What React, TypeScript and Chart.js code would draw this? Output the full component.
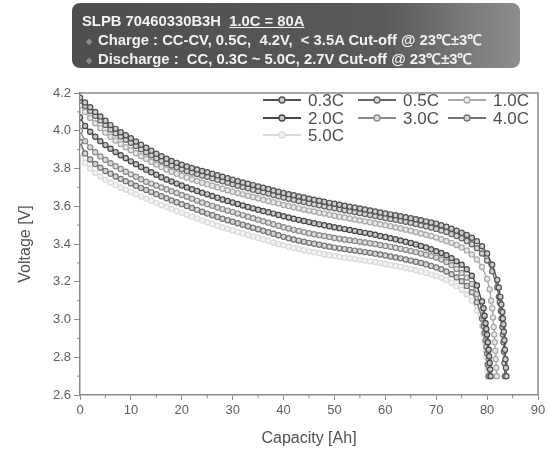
import React, { useEffect, useRef } from "react";
import { Chart, registerables } from "chart.js";

Chart.register(...registerables);

// ---- data ----
const seriesLabels = ["0.3C", "0.5C", "1.0C", "2.0C", "3.0C", "4.0C", "5.0C"];

const capacityAh = [
  0, 1, 2, 3, 4, 5, 6, 7, 8, 9,
  10, 11, 12, 13, 14, 15, 16, 17, 18, 19,
  20, 21, 22, 23, 24, 25, 26, 27, 28, 29,
  30, 31, 32, 33, 34, 35, 36, 37, 38, 39,
  40, 41, 42, 43, 44, 45, 46, 47, 48, 49,
  50, 51, 52, 53, 54, 55, 56, 57, 58, 59,
  60, 61, 62, 63, 64, 65, 66, 67, 68, 69,
  70, 71, 72, 73, 74, 75, 76, 77, 78, 79,
  80, 81, 82,
];

const v03 = [
  4.175, 4.150, 4.125, 4.100, 4.076, 4.053, 4.030, 4.010, 3.992, 3.976,
  3.960, 3.943, 3.926, 3.910, 3.894, 3.878, 3.865, 3.852, 3.840, 3.830,
  3.820, 3.811, 3.803, 3.795, 3.787, 3.780, 3.772, 3.764, 3.756, 3.748,
  3.740, 3.733, 3.726, 3.719, 3.712, 3.705, 3.698, 3.691, 3.684, 3.677,
  3.670, 3.664, 3.658, 3.652, 3.646, 3.640, 3.635, 3.629, 3.624, 3.618,
  3.613, 3.608, 3.603, 3.598, 3.593, 3.588, 3.583, 3.578, 3.572, 3.567,
  3.562, 3.557, 3.552, 3.547, 3.542, 3.537, 3.531, 3.526, 3.520, 3.514,
  3.508, 3.500, 3.491, 3.481, 3.470, 3.460, 3.448, 3.433, 3.415, 3.388,
  3.350, 3.290, 3.210,
];
const tailCap03 = [82.3, 82.6, 82.8, 83.0, 83.1, 83.2, 83.3, 83.4, 83.5, 83.6, 83.7, 83.8];
const tailV03 = [3.170, 3.120, 3.080, 3.040, 3.005, 2.975, 2.935, 2.890, 2.840, 2.790, 2.745, 2.700];

const v05 = [
  4.160, 4.132, 4.105, 4.079, 4.054, 4.030, 4.007, 3.987, 3.969, 3.952,
  3.936, 3.919, 3.902, 3.886, 3.870, 3.854, 3.841, 3.828, 3.816, 3.806,
  3.796, 3.787, 3.779, 3.771, 3.763, 3.756, 3.748, 3.740, 3.732, 3.724,
  3.716, 3.709, 3.702, 3.695, 3.688, 3.681, 3.674, 3.667, 3.660, 3.653,
  3.646, 3.640, 3.634, 3.628, 3.622, 3.616, 3.611, 3.605, 3.600, 3.594,
  3.589, 3.584, 3.579, 3.574, 3.569, 3.564, 3.559, 3.554, 3.548, 3.543,
  3.538, 3.533, 3.528, 3.523, 3.518, 3.512, 3.506, 3.500, 3.494, 3.487,
  3.480, 3.472, 3.463, 3.453, 3.442, 3.430, 3.416, 3.399, 3.378, 3.350,
  3.312, 3.255, 3.170,
];
const tailCap05 = [82.3, 82.5, 82.7, 82.85, 83.0, 83.1, 83.2, 83.3, 83.4, 83.5];
const tailV05 = [3.120, 3.090, 3.045, 3.005, 2.960, 2.920, 2.880, 2.830, 2.770, 2.700];

const v10 = [
  4.135, 4.100, 4.068, 4.040, 4.014, 3.990, 3.968, 3.948, 3.930, 3.913,
  3.897, 3.881, 3.865, 3.850, 3.835, 3.821, 3.808, 3.795, 3.783, 3.772,
  3.762, 3.752, 3.743, 3.734, 3.725, 3.717, 3.709, 3.701, 3.693, 3.685,
  3.677, 3.670, 3.663, 3.656, 3.649, 3.642, 3.635, 3.628, 3.621, 3.614,
  3.607, 3.601, 3.595, 3.589, 3.583, 3.577, 3.572, 3.566, 3.561, 3.555,
  3.550, 3.545, 3.540, 3.535, 3.530, 3.525, 3.520, 3.515, 3.510, 3.505,
  3.500, 3.494, 3.488, 3.482, 3.476, 3.470, 3.463, 3.456, 3.449, 3.442,
  3.434, 3.425, 3.416, 3.406, 3.395, 3.382, 3.366, 3.345, 3.318, 3.278,
  3.215,
];
const tailCap10 = [80.5, 80.8, 81.0, 81.15, 81.3, 81.4, 81.5, 81.6, 81.7, 81.8, 81.9];
const tailV10 = [3.160, 3.100, 3.060, 3.010, 2.960, 2.920, 2.880, 2.835, 2.790, 2.745, 2.700];

const v20 = [
  4.070, 4.025, 3.995, 3.968, 3.945, 3.924, 3.905, 3.887, 3.870, 3.854,
  3.838, 3.823, 3.808, 3.794, 3.780, 3.767, 3.754, 3.742, 3.731, 3.720,
  3.710, 3.700, 3.690, 3.681, 3.672, 3.663, 3.654, 3.645, 3.636, 3.628,
  3.620, 3.612, 3.604, 3.596, 3.589, 3.582, 3.575, 3.568, 3.561, 3.554,
  3.547, 3.540, 3.534, 3.528, 3.522, 3.516, 3.510, 3.504, 3.499, 3.494,
  3.489, 3.484, 3.479, 3.474, 3.469, 3.464, 3.459, 3.454, 3.449, 3.443,
  3.437, 3.431, 3.425, 3.419, 3.412, 3.405, 3.398, 3.390, 3.382, 3.372,
  3.362, 3.352, 3.340, 3.325, 3.308, 3.290, 3.266, 3.232, 3.180, 3.095,
];
const tailCap20 = [79.3, 79.5, 79.7, 79.85, 80.0, 80.15, 80.3, 80.4, 80.5, 80.6, 80.7];
const tailV20 = [3.060, 3.020, 2.980, 2.950, 2.920, 2.880, 2.840, 2.805, 2.770, 2.735, 2.700];

const v30 = [
  4.000, 3.945, 3.912, 3.886, 3.864, 3.845, 3.828, 3.812, 3.797, 3.783,
  3.769, 3.756, 3.743, 3.730, 3.720, 3.710, 3.700, 3.690, 3.680, 3.670,
  3.660, 3.650, 3.640, 3.630, 3.620, 3.611, 3.602, 3.593, 3.585, 3.577,
  3.569, 3.561, 3.553, 3.545, 3.537, 3.529, 3.521, 3.513, 3.505, 3.497,
  3.489, 3.482, 3.475, 3.469, 3.463, 3.457, 3.452, 3.447, 3.442, 3.437,
  3.432, 3.428, 3.424, 3.420, 3.416, 3.412, 3.408, 3.404, 3.400, 3.395,
  3.390, 3.385, 3.380, 3.375, 3.369, 3.363, 3.357, 3.350, 3.343, 3.336,
  3.328, 3.318, 3.305, 3.288, 3.268, 3.247, 3.222, 3.188, 3.135, 3.050,
];
const tailCap30 = [79.3, 79.5, 79.7, 79.85, 80.0, 80.15, 80.3, 80.4, 80.5];
const tailV30 = [3.015, 2.980, 2.945, 2.915, 2.880, 2.835, 2.790, 2.745, 2.700];

const v40 = [
  3.940, 3.880, 3.848, 3.824, 3.804, 3.787, 3.772, 3.758, 3.745, 3.733,
  3.721, 3.709, 3.697, 3.686, 3.675, 3.664, 3.653, 3.642, 3.631, 3.621,
  3.611, 3.601, 3.591, 3.581, 3.571, 3.561, 3.552, 3.543, 3.534, 3.526,
  3.518, 3.510, 3.502, 3.494, 3.486, 3.478, 3.470, 3.462, 3.454, 3.446,
  3.438, 3.431, 3.424, 3.418, 3.412, 3.406, 3.401, 3.396, 3.391, 3.386,
  3.381, 3.377, 3.373, 3.369, 3.365, 3.361, 3.357, 3.353, 3.349, 3.344,
  3.339, 3.334, 3.329, 3.324, 3.318, 3.312, 3.306, 3.299, 3.292, 3.284,
  3.276, 3.266, 3.254, 3.240, 3.223, 3.203, 3.178, 3.145, 3.092, 3.005,
];
const tailCap40 = [79.3, 79.5, 79.7, 79.85, 80.0, 80.15, 80.3];
const tailV40 = [2.965, 2.930, 2.890, 2.855, 2.820, 2.760, 2.700];

const v50 = [
  3.890, 3.830, 3.800, 3.777, 3.758, 3.741, 3.726, 3.712, 3.699, 3.687,
  3.675, 3.663, 3.651, 3.640, 3.629, 3.618, 3.607, 3.596, 3.585, 3.575,
  3.565, 3.555, 3.545, 3.535, 3.525, 3.515, 3.506, 3.497, 3.488, 3.480,
  3.472, 3.464, 3.456, 3.448, 3.440, 3.432, 3.424, 3.416, 3.408, 3.400,
  3.393, 3.386, 3.379, 3.373, 3.367, 3.361, 3.356, 3.351, 3.346, 3.341,
  3.336, 3.332, 3.328, 3.324, 3.320, 3.316, 3.312, 3.308, 3.304, 3.299,
  3.294, 3.289, 3.284, 3.279, 3.273, 3.267, 3.261, 3.254, 3.247, 3.239,
  3.231, 3.221, 3.209, 3.195, 3.178, 3.158, 3.133, 3.100, 3.048, 2.965,
];
const tailCap50 = [79.3, 79.5, 79.7, 79.85, 80.0, 80.1, 80.2];
const tailV50 = [2.925, 2.880, 2.835, 2.800, 2.760, 2.730, 2.700];

const xTickValues = [0, 10, 20, 30, 40, 50, 60, 70, 80, 90];
const yTickValues = [2.6, 2.8, 3.0, 3.2, 3.4, 3.6, 3.8, 4.0, 4.2];

// ---- styles ----
const lineColors = ["#505050", "#656565", "#a8a8a8", "#474747", "#8a8a8a", "#747474", "#dadada"];
const fillColors = ["#cccccc", "#d4d4d4", "#e8e8e8", "#c6c6c6", "#dddddd", "#d6d6d6", "#f4f4f4"];
const FONT = '"Liberation Sans", Arial, sans-serif';

function buildSeries(v: number[], tc: number[], tv: number[]) {
  const main = v.map((y, i) => ({ x: capacityAh[i], y }));
  const tail = tc.map((x, i) => ({ x, y: tv[i] }));
  return main.concat(tail);
}

const seriesData = [
  buildSeries(v03, tailCap03, tailV03),
  buildSeries(v05, tailCap05, tailV05),
  buildSeries(v10, tailCap10, tailV10),
  buildSeries(v20, tailCap20, tailV20),
  buildSeries(v30, tailCap30, tailV30),
  buildSeries(v40, tailCap40, tailV40),
  buildSeries(v50, tailCap50, tailV50),
];

const framePlugin = {
  id: "frame",
  afterDraw(chart: any) {
    const { ctx, chartArea } = chart;
    const xs = chart.scales.x;
    const ys = chart.scales.y;
    ctx.save();
    ctx.strokeStyle = "#8a8a8a";
    ctx.lineWidth = 1.5;
    ctx.beginPath();
    ctx.moveTo(chartArea.left, chartArea.top);
    ctx.lineTo(chartArea.right, chartArea.top);
    ctx.lineTo(chartArea.right, chartArea.bottom);
    ctx.stroke();
    ctx.lineWidth = 1;
    ctx.beginPath();
    for (let i = 0; i < xTickValues.length - 1; i++) {
      const px = xs.getPixelForValue((xTickValues[i] + xTickValues[i + 1]) / 2);
      ctx.moveTo(px, chartArea.bottom);
      ctx.lineTo(px, chartArea.bottom + 3);
    }
    for (let i = 0; i < yTickValues.length - 1; i++) {
      const py = ys.getPixelForValue((yTickValues[i] + yTickValues[i + 1]) / 2);
      ctx.moveTo(chartArea.left, py);
      ctx.lineTo(chartArea.left - 3, py);
    }
    ctx.stroke();
    ctx.restore();
  },
};

const legendPlugin = {
  id: "innerLegend",
  afterDraw(chart: any) {
    const { ctx } = chart;
    const cols = [263, 358, 448];
    const rows = [100, 118, 135];
    ctx.save();
    chart.data.datasets.forEach((ds: any, i: number) => {
      const col = i % 3;
      const row = Math.floor(i / 3);
      const x0 = cols[col];
      const y0 = rows[row];
      ctx.strokeStyle = ds.borderColor;
      ctx.lineWidth = 2.2;
      ctx.beginPath();
      ctx.moveTo(x0, y0);
      ctx.lineTo(x0 + 38, y0);
      ctx.stroke();
      ctx.fillStyle = ds.pointBackgroundColor;
      ctx.lineWidth = 1.3;
      ctx.beginPath();
      ctx.arc(x0 + 19, y0, 3, 0, Math.PI * 2);
      ctx.fill();
      ctx.stroke();
      ctx.fillStyle = "#4f4f4f";
      ctx.font = `17px ${FONT}`;
      ctx.textBaseline = "middle";
      ctx.textAlign = "left";
      ctx.fillText(ds.label, x0 + 45, y0 + 1);
    });
    ctx.restore();
  },
};

export default function App() {
  const canvasRef = useRef<HTMLCanvasElement | null>(null);

  useEffect(() => {
    if (!canvasRef.current) return;
    const chart = new Chart(canvasRef.current, {
      type: "line",
      data: {
        datasets: seriesData.map((d, i) => ({
          label: seriesLabels[i],
          data: d,
          borderColor: lineColors[i],
          backgroundColor: lineColors[i],
          pointBackgroundColor: fillColors[i],
          pointBorderColor: lineColors[i],
          pointRadius: 2.6,
          pointBorderWidth: 1.2,
          borderWidth: 1.4,
          tension: 0,
          fill: false,
        })),
      },
      options: {
        animation: false,
        responsive: false,
        devicePixelRatio: 1,
        layout: { padding: { top: 93, right: 11, left: 0, bottom: 0 } },
        plugins: { legend: { display: false }, tooltip: { enabled: false } },
        scales: {
          x: {
            type: "linear",
            min: 0,
            max: 90,
            afterFit: (s: any) => {
              s.height = 55;
            },
            afterBuildTicks: (s: any) => {
              s.ticks = xTickValues.map((v) => ({ value: v }));
            },
            ticks: {
              color: "#5e5e5e",
              font: { family: FONT, size: 13 },
              padding: 3,
              maxRotation: 0,
              callback: (v: any) => String(v),
            },
            grid: { drawOnChartArea: false, drawTicks: true, tickLength: 5, color: "#8a8a8a" },
            border: { display: true, color: "#8a8a8a", width: 1.5 },
            title: {
              display: true,
              text: "Capacity [Ah]",
              color: "#505050",
              font: { family: FONT, size: 16 },
              padding: { top: 0, bottom: 2 },
            },
          },
          y: {
            type: "linear",
            min: 2.6,
            max: 4.2,
            afterFit: (s: any) => {
              s.width = 80;
            },
            afterBuildTicks: (s: any) => {
              s.ticks = yTickValues.map((v) => ({ value: v }));
            },
            ticks: {
              color: "#5e5e5e",
              font: { family: FONT, size: 13 },
              padding: 3,
              callback: (v: any) => Number(v).toFixed(1),
            },
            grid: { drawOnChartArea: false, drawTicks: true, tickLength: 6, color: "#8a8a8a" },
            border: { display: true, color: "#8a8a8a", width: 1.5 },
            title: {
              display: true,
              text: "Voltage [V]",
              color: "#505050",
              font: { family: FONT, size: 16 },
              padding: { top: 16, bottom: 0 },
            },
          },
        },
      },
      plugins: [framePlugin, legendPlugin],
    } as any);
    return () => chart.destroy();
  }, []);

  const bullet = { color: "#8a8a8a", fontSize: 8, marginRight: 6, verticalAlign: "middle" } as React.CSSProperties;

  return (
    <div style={{ position: "absolute", left: 0, top: 0, width: 549, height: 450, background: "#ffffff" }}>
      <canvas ref={canvasRef} width={549} height={450} style={{ position: "absolute", left: 0, top: 0 }} />
      <div
        style={{
          position: "absolute",
          left: 72,
          top: 3,
          width: 448,
          height: 65,
          borderRadius: 8,
          background: "linear-gradient(to right, #4e4e4e 0%, #5a5a5a 70%, #8e8e8e 100%)",
          color: "#f2f2f2",
          fontFamily: FONT,
          fontWeight: "bold",
          fontSize: 14.8,
          whiteSpace: "nowrap",
          lineHeight: "17px",
        }}
      >
        <div style={{ position: "absolute", left: 10, top: 10 }}>
          SLPB 70460330B3H&nbsp;&nbsp;<span style={{ textDecoration: "underline" }}>1.0C = 80A</span>
        </div>
        <div style={{ position: "absolute", left: 14, top: 29 }}>
          <span style={bullet}>◆</span>Charge : CC-CV, 0.5C,&nbsp; 4.2V,&nbsp; &lt; 3.5A Cut-off @ 23℃±3℃
        </div>
        <div style={{ position: "absolute", left: 14, top: 48 }}>
          <span style={bullet}>◆</span>Discharge :&nbsp; CC, 0.3C ~ 5.0C, 2.7V Cut-off @ 23℃±3℃
        </div>
      </div>
    </div>
  );
}
